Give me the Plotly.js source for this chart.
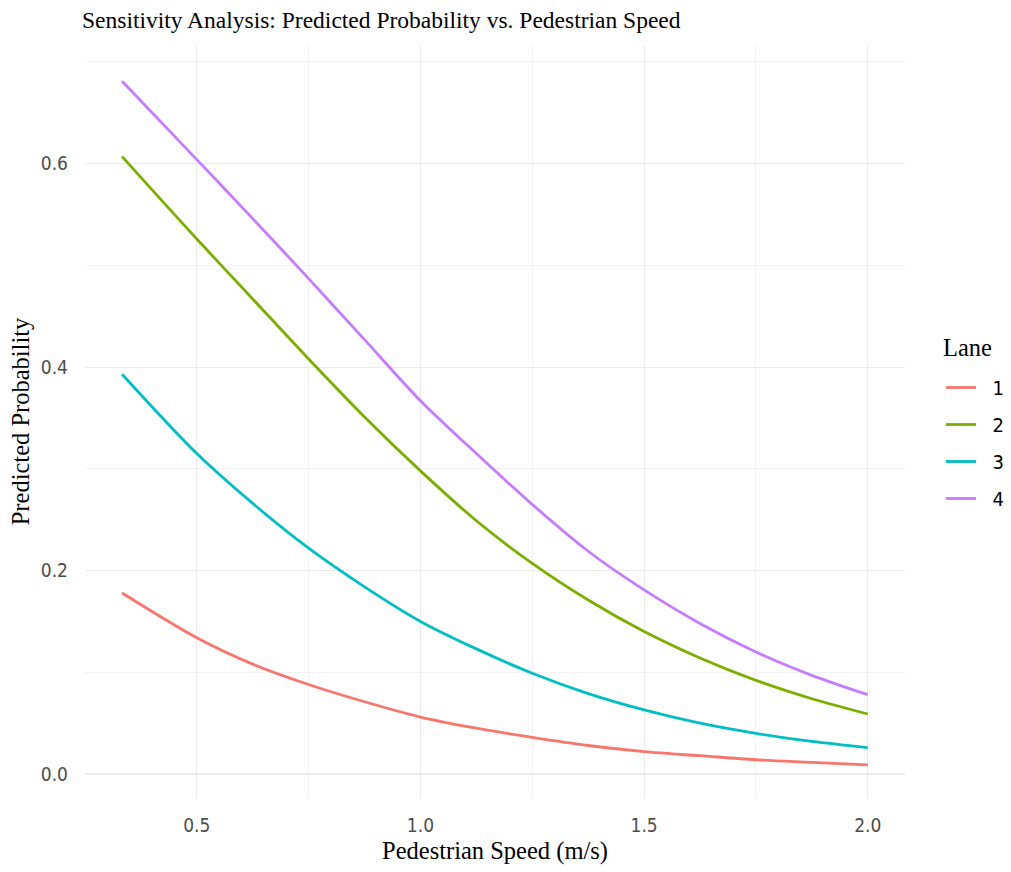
<!DOCTYPE html>
<html>
<head>
<meta charset="utf-8">
<script src="https://cdn.plot.ly/plotly-3.0.1.min.js"></script>
<style>html,body{margin:0;padding:0;background:#fff;}#chart{width:1011px;height:872px;}</style>
</head>
<body>
<div id="chart"></div>
<script>
// Data
const speed = [0.333, 0.5, 0.625, 0.75, 0.875, 1.0, 1.125, 1.25, 1.375, 1.5, 1.625, 1.75, 1.875, 2.0];
const lane1 = [0.178, 0.134, 0.108, 0.088, 0.071, 0.056, 0.045, 0.036, 0.028, 0.022, 0.018, 0.014, 0.0115, 0.009];
const lane2 = [0.607, 0.526, 0.467, 0.408, 0.351, 0.298, 0.249, 0.207, 0.171, 0.140, 0.114, 0.092, 0.074, 0.059];
const lane3 = [0.393, 0.315, 0.266, 0.222, 0.184, 0.150, 0.123, 0.099, 0.079, 0.063, 0.050, 0.040, 0.032, 0.026];
const lane4 = [0.681, 0.604, 0.546, 0.487, 0.427, 0.367, 0.315, 0.265, 0.219, 0.181, 0.148, 0.120, 0.097, 0.078];
const laneNames = ["1", "2", "3", "4"];
const legendTitle = "Lane";
const xTickVals = [0.5, 1.0, 1.5, 2.0];
const xTickText = ["0.5", "1.0", "1.5", "2.0"];
const yTickVals = [0.0, 0.2, 0.4, 0.6];
const yTickText = ["0.0", "0.2", "0.4", "0.6"];

const colors = ["#F8766D", "#7CAE00", "#00BFC4", "#C77CFF"];
const series = [lane1, lane2, lane3, lane4];

const traces = series.map((ys, i) => ({
  x: speed, y: ys, type: "scatter", mode: "lines",
  name: "\u00A0\u00A0" + laneNames[i], legendgroup: "g" + i,
  line: {color: colors[i], width: 2.8, shape: "spline", smoothing: 0.9}
}));

const serif = "Liberation Serif, Times New Roman, serif";
const narrow = "DejaVu Sans Condensed, Liberation Sans Narrow, Liberation Sans, Arial, sans-serif";
const gridCol = "#EBEBEB";
const layout = {
  width: 1011, height: 872,
  paper_bgcolor: "#fff", plot_bgcolor: "#fff",
  margin: {l: 85, r: 106, t: 45, b: 74, autoexpand: false},
  title: {text: "Sensitivity Analysis: Predicted Probability vs. Pedestrian Speed",
          x: 82/1011, xanchor: "left", y: 1 - 20/872, yanchor: "middle",
          font: {family: serif, size: 23.5, color: "#000"}},
  xaxis: {
    range: [0.25, 2.0833], tickvals: xTickVals, ticktext: xTickText,
    showgrid: true, gridcolor: gridCol, gridwidth: 1.1, zeroline: false, showline: false,
    ticks: "", ticklabelstandoff: 14, automargin: false,
    tickfont: {family: narrow, size: 19, color: "#4D4D4D"},
    minor: {tickvals: [0.25, 0.75, 1.25, 1.75], showgrid: true, gridcolor: gridCol, gridwidth: 0.6, ticks: ""},
    title: {text: "Pedestrian Speed (m/s)", standoff: 6,
            font: {family: serif, size: 24.5, color: "#000"}}
  },
  yaxis: {
    range: [-0.0236, 0.7167], tickvals: yTickVals, ticktext: yTickText,
    showgrid: true, gridcolor: gridCol, gridwidth: 1.1, zeroline: false, showline: false,
    ticks: "", ticklabelstandoff: 16, automargin: false,
    tickfont: {family: narrow, size: 19, color: "#4D4D4D"},
    minor: {tickvals: [0.1, 0.3, 0.5, 0.7], showgrid: true, gridcolor: gridCol, gridwidth: 0.6, ticks: ""},
    title: {text: "Predicted Probability", standoff: 4,
            font: {family: serif, size: 24.5, color: "#000"}}
  },
  showlegend: true,
  legend: {
    x: (941 - 85) / 820, xanchor: "left", y: 1 - (368 - 45) / 753, yanchor: "top",
    font: {family: narrow, size: 20, color: "#000"},
    tracegroupgap: 8, bgcolor: "rgba(0,0,0,0)"
  },
  annotations: [{
    text: legendTitle, xref: "paper", yref: "paper",
    x: (941 - 85) / 820, xanchor: "left", y: 1 - (347 - 45) / 753, yanchor: "middle",
    showarrow: false, font: {family: serif, size: 24.5, color: "#000"}
  }]
};

Plotly.newPlot("chart", traces, layout, {displayModeBar: false, staticPlot: true});
</script>
</body>
</html>
